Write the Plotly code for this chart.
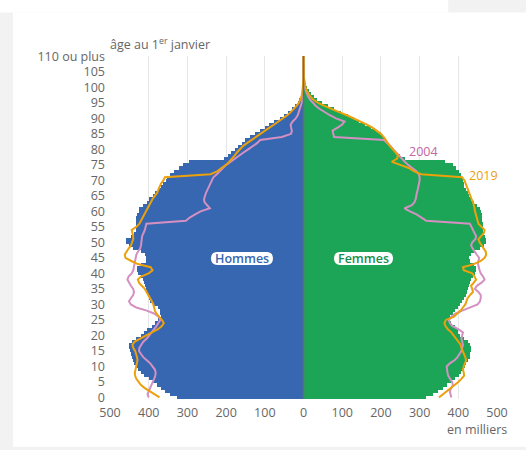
import plotly.graph_objects as go

# ---------------- data (thousands of people, by age 0..110) ----------------
ages = list(range(111))

hommes_2024 = [
    326, 345, 358, 368, 378, 390, 400, 412, 420, 428,
    434, 437, 440, 444, 446, 448, 452, 450, 442, 432,
    420, 412, 405, 392, 383, 375, 368, 370, 372, 376,
    388, 396, 400, 402, 404, 408, 410, 412, 414, 420,
    428, 430, 430, 420, 408, 406, 410, 420, 440, 452,
    458, 458, 445, 438, 433, 433, 432, 432, 433, 430,
    426, 424, 415, 405, 398, 390, 383, 375, 368, 362,
    355, 352, 345, 335, 322, 312, 295, 205, 196, 188,
    178, 170, 160, 150, 138, 125, 113, 100, 88, 75,
    62, 50, 40, 30, 22, 15, 11, 7.5, 5, 3.5,
    2.3, 1.5, 0.9, 0.5, 0.3, 0.2, 0.1, 0.05, 0.03, 0.02, 0.01,
]

femmes_2024 = [
    316, 334, 348, 360, 372, 382, 392, 401, 408, 413,
    418, 421, 425, 429, 431, 432, 433, 431, 425, 415,
    405, 398, 398, 392, 380, 374, 378, 385, 392, 398,
    405, 410, 416, 420, 422, 425, 428, 430, 434, 438,
    442, 445, 446, 440, 430, 428, 432, 442, 455, 466,
    472, 472, 468, 465, 464, 464, 463, 462, 462, 460,
    458, 455, 448, 440, 434, 428, 424, 420, 416, 414,
    412, 410, 408, 402, 395, 385, 365, 262, 250, 240,
    232, 225, 218, 212, 206, 200, 188, 175, 160, 144,
    130, 114, 98, 80, 63, 48, 36, 27, 20, 14,
    9.5, 6.5, 4.3, 2.8, 1.7, 1.0, 0.6, 0.3, 0.15, 0.08, 0.05,
]

hommes_2019 = [
    372, 385, 398, 410, 420, 427, 432, 435, 436, 434,
    432, 430, 429, 430, 432, 435, 440, 442, 436, 420,
    405, 392, 376, 366, 361, 366, 373, 380, 384, 386,
    388, 392, 396, 400, 405, 410, 418, 425, 428, 420,
    400, 390, 395, 428, 445, 460, 462, 458, 452, 446,
    442, 440, 440, 442, 444, 432, 424, 420, 416, 412,
    406, 403, 399, 394, 390, 384, 378, 375, 372, 368,
    362, 358, 240, 222, 212, 200, 192, 184, 178, 172,
    165, 157, 146, 135, 123, 112, 100, 88, 76, 64,
    52, 42, 33, 25, 18, 12, 8, 5.5, 3.5, 2.3,
    1.5, 1.0, 0.6, 0.4, 0.25, 0.15, 0.1, 0.05, 0.03, 0.02, 0.01,
]

femmes_2019 = [
    350, 360, 372, 382, 392, 400, 408, 415, 414, 412,
    414, 418, 420, 418, 414, 410, 408, 406, 400, 394,
    390, 382, 373, 367, 364, 368, 388, 398, 406, 412,
    418, 421, 424, 430, 438, 436, 433, 440, 446, 442,
    436, 414, 412, 440, 458, 468, 472, 471, 465, 459,
    455, 452, 460, 466, 468, 460, 452, 450, 447, 444,
    443, 442, 440, 438, 434, 430, 428, 425, 422, 420,
    416, 410, 304, 285, 272, 250, 228, 242, 244, 238,
    230, 224, 218, 213, 207, 200, 190, 178, 164, 148,
    130, 112, 92, 72, 54, 38, 26, 18, 12, 8,
    5, 3.3, 2.1, 1.3, 0.8, 0.5, 0.3, 0.15, 0.08, 0.04, 0.03,
]

hommes_2004 = [
    400, 403, 400, 396, 394, 390, 386, 383, 382, 384,
    390, 396, 405, 414, 420, 425, 424, 420, 414, 405,
    398, 392, 386, 380, 376, 370, 374, 385, 405, 432,
    446, 451, 446, 440, 438, 440, 446, 451, 455, 452,
    444, 440, 438, 437, 436, 434, 432, 428, 422, 420,
    418, 418, 417, 413, 410, 408, 406, 304, 294, 280,
    266, 242, 250, 256, 257, 255, 252, 248, 244, 240,
    236, 233, 224, 216, 210, 200, 188, 178, 165, 155,
    143, 130, 120, 112, 56, 32, 30, 32, 33, 28,
    20, 15, 12, 9, 6.5, 4.5, 3, 2, 1.3, 0.8,
    0.5, 0.3, 0.2, 0.1, 0.05, 0.03, 0.02, 0.01, 0.01, 0.01, 0.01,
]

femmes_2004 = [
    382, 380, 378, 382, 386, 384, 378, 374, 372, 370,
    370, 378, 390, 398, 404, 408, 410, 412, 410, 408,
    410, 412, 400, 385, 378, 376, 382, 392, 410, 432,
    450, 456, 458, 458, 452, 443, 448, 460, 468, 464,
    458, 455, 452, 451, 452, 454, 448, 442, 437, 433,
    436, 444, 446, 442, 438, 434, 430, 317, 305, 292,
    275, 261, 280, 287, 290, 291, 293, 295, 297, 299,
    300, 300, 298, 291, 280, 270, 262, 254, 246, 238,
    232, 225, 217, 208, 79, 77, 75, 88, 100, 106,
    84, 68, 54, 42, 32, 24, 17, 12, 8, 5.5,
    3.5, 2.3, 1.5, 0.9, 0.5, 0.3, 0.2, 0.1, 0.05, 0.03, 0.02,
]

tick_ages = list(range(0, 111, 5))
tick_age_labels = [str(a) for a in tick_ages[:-1]] + ["110 ou plus"]
x_ticks = list(range(-500, 501, 100))
x_tick_labels = [str(abs(v)) for v in x_ticks]

# ---------------- style ----------------
BLUE = "#3767b0"
GREEN = "#1ca557"
ORANGE = "#eba00c"
PINK = "#d490c2"
PINK_TXT = "#c2679f"
GREY_TXT = "#666666"
FONT = "Open Sans"

fig = go.Figure()
fig.add_trace(go.Bar(y=ages, x=[-v for v in hommes_2024], orientation="h",
                     width=1.0, marker=dict(color=BLUE, line_width=0), name="Hommes"))
fig.add_trace(go.Bar(y=ages, x=femmes_2024, orientation="h",
                     width=1.0, marker=dict(color=GREEN, line_width=0), name="Femmes"))
fig.add_trace(go.Scatter(y=ages, x=[-v for v in hommes_2004], mode="lines",
                         line=dict(color=PINK, width=2), name="2004 H"))
fig.add_trace(go.Scatter(y=ages, x=femmes_2004, mode="lines",
                         line=dict(color=PINK, width=2), name="2004 F"))
fig.add_trace(go.Scatter(y=ages, x=[-v for v in hommes_2019], mode="lines",
                         line=dict(color=ORANGE, width=2), name="2019 H"))
fig.add_trace(go.Scatter(y=ages, x=femmes_2019, mode="lines",
                         line=dict(color=ORANGE, width=2), name="2019 F"))

Y_MIN, Y_MAX = -0.5, 110.1
PLOT_L, PLOT_R, PLOT_T, PLOT_B = 110, 496.7, 56.4, 399.3
def px_x(p):
    return (p - PLOT_L) / (PLOT_R - PLOT_L)
def px_y(p):
    return (PLOT_B - p) / (PLOT_B - PLOT_T)

shapes = [
    # white card background
    dict(type="rect", xref="paper", yref="paper", x0=px_x(13), x1=px_x(540),
         y0=px_y(447), y1=px_y(13), fillcolor="white", line_width=0, layer="below"),
    dict(type="rect", xref="paper", yref="paper", x0=px_x(-10), x1=px_x(448),
         y0=px_y(13), y1=px_y(-10), fillcolor="white", line_width=0, layer="below"),
    # centre axis line
    dict(type="line", xref="x", yref="y", x0=0, x1=0, y0=Y_MIN, y1=Y_MAX,
         line=dict(color="#6b6b6b", width=1.5), layer="above"),
]

def pill(xc, yc, hw, hh):
    r = hh
    path = (f"M {-hw + r},{-hh} L {hw - r},{-hh} Q {hw},{-hh} {hw},0 "
            f"Q {hw},{hh} {hw - r},{hh} L {-hw + r},{hh} Q {-hw},{hh} {-hw},0 "
            f"Q {-hw},{-hh} {-hw + r},{-hh} Z")
    return dict(type="path", xref="x", yref="y", xsizemode="pixel", ysizemode="pixel",
                xanchor=xc, yanchor=yc, path=path, fillcolor="white",
                line_width=0, layer="above")

shapes.append(pill(-159, 44.8, 31, 6.5))
shapes.append(pill(155, 44.8, 29.5, 6.5))

annotations = [
    dict(text="âge au 1<sup>er</sup> janvier", xref="paper", yref="paper",
         x=px_x(108), y=px_y(44), xanchor="left", yanchor="middle", showarrow=False,
         font=dict(family=FONT, size=12.5, color=GREY_TXT)),
    dict(text="en milliers", xref="paper", yref="paper",
         x=px_x(509), y=px_y(430), xanchor="right", yanchor="middle", showarrow=False,
         font=dict(family=FONT, size=12.5, color=GREY_TXT)),
    dict(text="Hommes", xref="x", yref="y", x=-159, y=44.8, showarrow=False,
         font=dict(family=FONT, size=12.5, color=BLUE, weight=600)),
    dict(text="Femmes", xref="x", yref="y", x=155, y=44.8, showarrow=False,
         font=dict(family=FONT, size=12.5, color="#168f4b", weight=600)),
    dict(text="2004", xref="x", yref="y", x=310, y=79.3, showarrow=False,
         font=dict(family=FONT, size=12.5, color=PINK_TXT)),
    dict(text="2019", xref="x", yref="y", x=466, y=71.6, showarrow=False,
         font=dict(family=FONT, size=12.5, color=ORANGE)),
]

fig.update_layout(
    width=526, height=450,
    margin=dict(l=PLOT_L, r=526 - PLOT_R, t=PLOT_T, b=450 - PLOT_B, pad=0),
    paper_bgcolor="#f2f2f2", plot_bgcolor="rgba(0,0,0,0)",
    barmode="overlay", bargap=0, showlegend=False, hovermode=False,
    font=dict(family=FONT, size=12.5, color=GREY_TXT),
    shapes=shapes, annotations=annotations,
    xaxis=dict(range=[-500, 500], tickvals=x_ticks, ticktext=x_tick_labels,
               showgrid=True, gridcolor="#e6e6e6", gridwidth=1, zeroline=False,
               showline=False, ticks="", ticklabelstandoff=4,
               tickfont=dict(family=FONT, size=12.5, color=GREY_TXT), fixedrange=True),
    yaxis=dict(range=[Y_MIN, Y_MAX], tickvals=tick_ages, ticktext=tick_age_labels,
               showgrid=False, zeroline=False, showline=False, ticks="",
               ticklabelstandoff=4,
               tickfont=dict(family=FONT, size=12.5, color=GREY_TXT), fixedrange=True),
)

fig.write_html(
    "out.html",
    config={"displayModeBar": False, "staticPlot": True},
    post_script="document.body.style.margin='0';document.body.style.padding='0';"
                "document.body.style.background='#f2f2f2';",
)
